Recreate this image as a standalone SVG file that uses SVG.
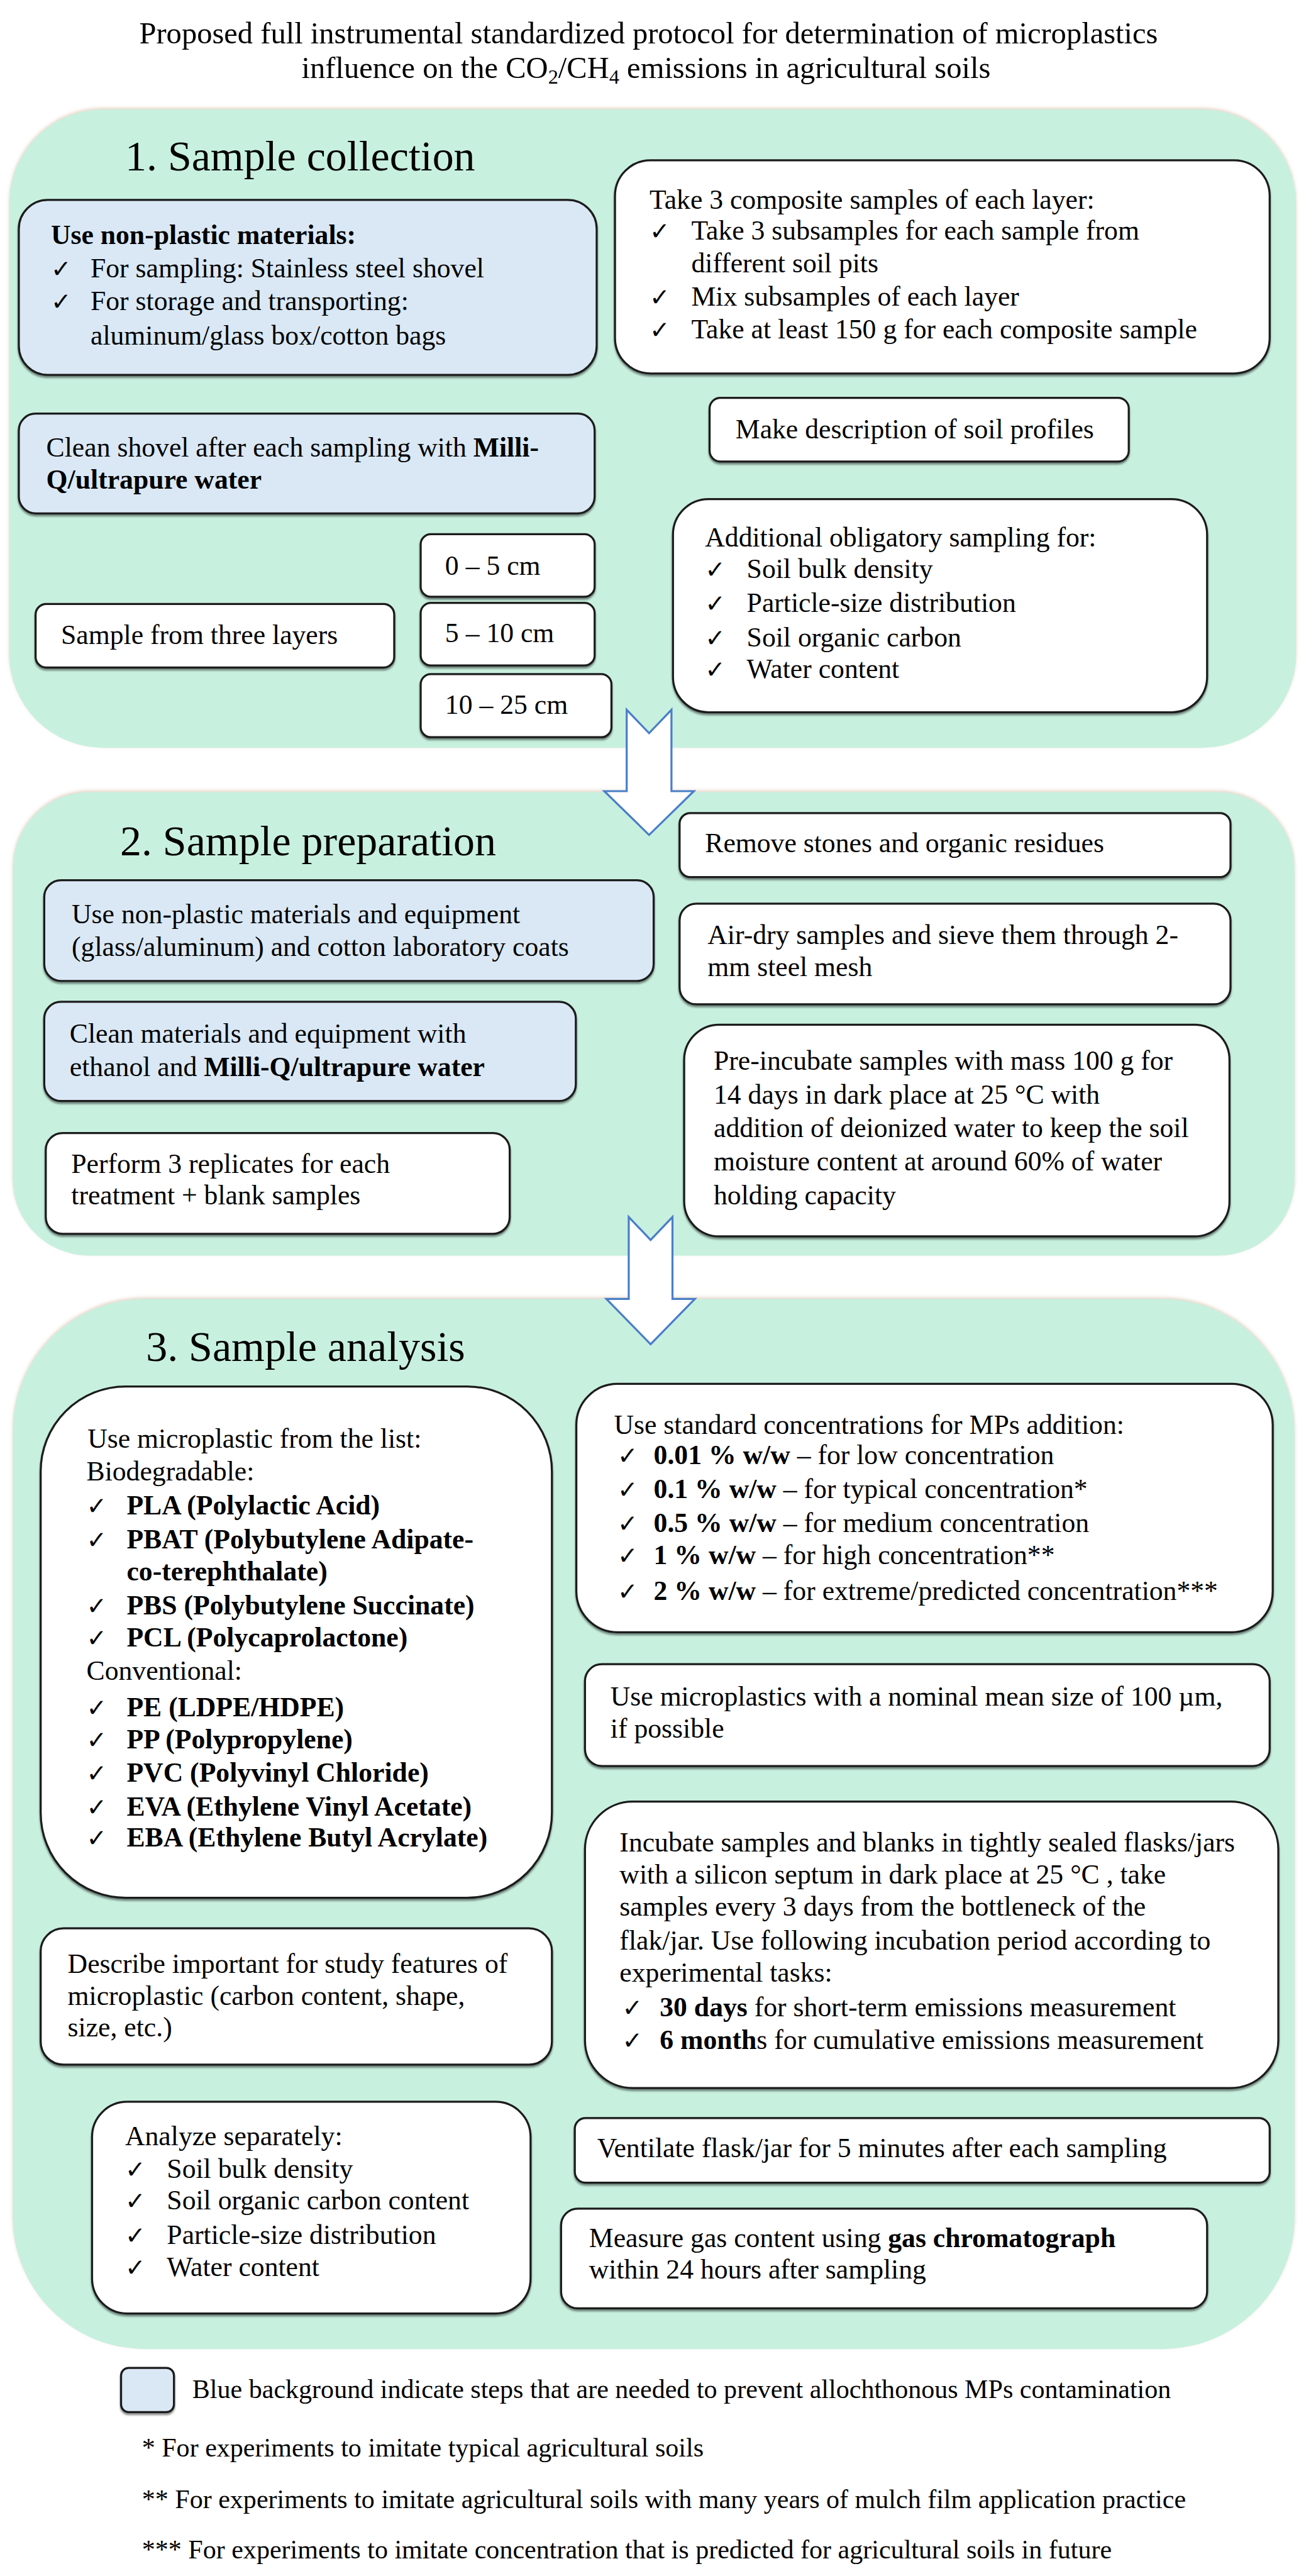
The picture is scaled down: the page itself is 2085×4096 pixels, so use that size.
<svg xmlns="http://www.w3.org/2000/svg" width="2085" height="4096" viewBox="0 0 2085 4096">
<defs>
<style>
text{font-family:"Liberation Serif","Times New Roman",serif;font-size:54px;fill:#000}
.b{font-weight:bold}
.ck{font-family:"DejaVu Sans",sans-serif;font-size:48px}
.h{font-size:84px}
.t{font-size:60px}
.fn{font-size:52px}
.panel{fill:#C8F0DF;filter:url(#psh)}
.box{fill:#fff;stroke:#1a1a1a;stroke-width:4;filter:url(#sh)}
.blue{fill:#DAE8F5;stroke:#1a1a1a;stroke-width:4;filter:url(#sh)}
.arrow{fill:#fff;stroke:#4A7EC8;stroke-width:4;stroke-linejoin:miter}
</style>
<filter id="sh" x="-5%" y="-10%" width="110%" height="125%"><feDropShadow dx="0" dy="4" stdDeviation="2" flood-color="#000" flood-opacity="0.45"/></filter>
<filter id="psh" x="-5%" y="-5%" width="110%" height="110%"><feDropShadow dx="0" dy="-3" stdDeviation="3" flood-color="#C9A98A" flood-opacity="0.5"/></filter>
</defs>
<rect width="2085" height="4096" fill="#fff"/>
<g transform="scale(0.809)">
<g id="title">
<text class="t" x="1275" y="85" text-anchor="middle">Proposed full instrumental standardized protocol for determination of microplastics</text>
<text class="t" x="1270" y="153" text-anchor="middle">influence on the CO<tspan font-size="40" dy="12">2</tspan><tspan dy="-12">/CH</tspan><tspan font-size="40" dy="12">4</tspan><tspan dy="-12"> emissions in agricultural soils</tspan></text>
</g>

<g id="section1">
<rect class="panel" x="18" y="215" width="2530" height="1255" rx="185" ry="185"/>
<text class="h" x="246" y="335">1. Sample collection</text>
</g>
<g id="section2">
<rect class="panel" x="25" y="1557" width="2520" height="911" rx="150" ry="150"/>
<text class="h" x="236" y="1681">2. Sample preparation</text>
</g>
<g id="section3">
<rect class="panel" x="25" y="2553" width="2520" height="2064" rx="260" ry="260"/>
<text class="h" x="287" y="2675">3. Sample analysis</text>
</g>

<g id="connectors">
<path class="arrow" d="M1232,1395 L1276,1441 L1320,1395 L1320,1555 L1364,1555 L1276,1641 L1188,1555 L1232,1555 Z"/>
<path class="arrow" d="M1236,2392 L1279,2437 L1322,2392 L1322,2553 L1366,2553 L1279,2642 L1192,2553 L1236,2553 Z"/>
</g>

<g id="n-nonplastic">
<rect class="blue" x="37" y="393" width="1136" height="344" rx="57"/>
<text class="b" x="100" y="480">Use non-plastic materials:</text>
<text class="ck" x="100" y="545">✓</text><text x="178" y="545">For sampling: Stainless steel shovel</text>
<text class="ck" x="100" y="610">✓</text><text x="178" y="610">For storage and transporting:</text>
<text x="178" y="677">aluminum/glass  box/cotton bags</text>
</g>
<g id="n-cleanshovel">
<rect class="blue" x="37" y="813" width="1132" height="196" rx="33"/>
<text x="91" y="898">Clean shovel after each sampling with <tspan class="b">Milli-</tspan></text>
<text class="b" x="91" y="960">Q/ultrapure water</text>
</g>
<g id="n-composite">
<rect class="box" x="1209" y="315" width="1287" height="419" rx="70"/>
<text x="1277" y="410">Take 3 composite samples of each layer:</text>
<text class="ck" x="1277" y="471">✓</text><text x="1359" y="471">Take 3 subsamples for each sample from</text>
<text x="1359" y="535">different soil pits</text>
<text class="ck" x="1277" y="601">✓</text><text x="1359" y="601">Mix subsamples of each layer</text>
<text class="ck" x="1277" y="665">✓</text><text x="1359" y="665">Take at least 150 g for each composite sample</text>
</g>
<g id="n-description">
<rect class="box" x="1395" y="782" width="824" height="125" rx="21"/>
<text x="1446" y="861">Make description of soil profiles</text>
</g>
<g id="n-additional">
<rect class="box" x="1323" y="981" width="1050" height="419" rx="70"/>
<text x="1386" y="1074">Additional obligatory sampling for:</text>
<text class="ck" x="1386" y="1136">✓</text><text x="1468" y="1136">Soil bulk density</text>
<text class="ck" x="1386" y="1203">✓</text><text x="1468" y="1203">Particle-size distribution</text>
<text class="ck" x="1386" y="1271">✓</text><text x="1468" y="1271">Soil organic carbon</text>
<text class="ck" x="1386" y="1333">✓</text><text x="1468" y="1333">Water content</text>
</g>
<g id="n-layers">
<rect class="box" x="70" y="1187" width="705" height="125" rx="21"/>
<text x="120" y="1266">Sample from three layers</text>
</g>
<g id="n-0-5">
<rect class="box" x="827" y="1050" width="342" height="123" rx="20"/>
<text x="875" y="1130">0 – 5 cm</text>
</g>
<g id="n-5-10">
<rect class="box" x="827" y="1185" width="342" height="123" rx="20"/>
<text x="875" y="1262">5 – 10 cm</text>
</g>
<g id="n-10-25">
<rect class="box" x="827" y="1325" width="375" height="124" rx="20"/>
<text x="875" y="1403">10 – 25 cm</text>
</g>

<g id="n-equipment">
<rect class="blue" x="87" y="1730" width="1198" height="198" rx="33"/>
<text x="141" y="1814">Use non-plastic materials and equipment</text>
<text x="141" y="1879">(glass/aluminum)  and cotton laboratory coats</text>
</g>
<g id="n-cleanmaterials">
<rect class="blue" x="87" y="1969" width="1045" height="195" rx="33"/>
<text x="137" y="2050">Clean materials and equipment with</text>
<text x="137" y="2115">ethanol and <tspan class="b">Milli-Q/ultrapure water</tspan></text>
</g>
<g id="n-replicates">
<rect class="box" x="90" y="2227" width="912" height="198" rx="33"/>
<text x="140" y="2305">Perform 3 replicates for each</text>
<text x="140" y="2367">treatment + blank samples</text>
</g>
<g id="n-stones">
<rect class="box" x="1336" y="1598" width="1083" height="126" rx="21"/>
<text x="1386" y="1675">Remove stones and organic residues</text>
</g>
<g id="n-airdry">
<rect class="box" x="1336" y="1776" width="1083" height="198" rx="33"/>
<text x="1391" y="1856">Air-dry samples and sieve them through 2-</text>
<text x="1391" y="1919">mm steel mesh</text>
</g>
<g id="n-preincubate">
<rect class="box" x="1345" y="2014" width="1072" height="416" rx="69"/>
<text x="1403" y="2103">Pre-incubate samples with mass 100 g for</text>
<text x="1403" y="2169">14 days in dark place at 25 °C with</text>
<text x="1403" y="2235">addition of deionized water to keep the soil</text>
<text x="1403" y="2301">moisture content at around 60% of water</text>
<text x="1403" y="2367">holding capacity</text>
</g>

<g id="n-mplist">
<rect class="box" x="80" y="2725" width="1005" height="1005" rx="167"/>
<text x="172" y="2845">Use microplastic from the list:</text>
<text x="170" y="2910">Biodegradable:</text>
<text class="ck" x="170" y="2976">✓</text><text class="b" x="249" y="2976">PLA (Polylactic Acid)</text>
<text class="ck" x="170" y="3043">✓</text><text class="b" x="249" y="3043">PBAT (Polybutylene Adipate-</text>
<text class="b" x="249" y="3106">co-terephthalate)</text>
<text class="ck" x="170" y="3173">✓</text><text class="b" x="249" y="3173">PBS (Polybutylene Succinate)</text>
<text class="ck" x="170" y="3236">✓</text><text class="b" x="249" y="3236">PCL (Polycaprolactone)</text>
<text x="170" y="3302">Conventional:</text>
<text class="ck" x="170" y="3373">✓</text><text class="b" x="249" y="3373">PE (LDPE/HDPE)</text>
<text class="ck" x="170" y="3436">✓</text><text class="b" x="249" y="3436">PP (Polypropylene)</text>
<text class="ck" x="170" y="3502">✓</text><text class="b" x="249" y="3502">PVC (Polyvinyl Chloride)</text>
<text class="ck" x="170" y="3569">✓</text><text class="b" x="249" y="3569">EVA (Ethylene Vinyl Acetate)</text>
<text class="ck" x="170" y="3629">✓</text><text class="b" x="249" y="3629">EBA (Ethylene Butyl Acrylate)</text>
</g>
<g id="n-describe">
<rect class="box" x="80" y="3790" width="1005" height="268" rx="45"/>
<text x="133" y="3878">Describe important for study features of</text>
<text x="133" y="3941">microplastic (carbon content, shape,</text>
<text x="133" y="4002">size, etc.)</text>
</g>
<g id="n-analyze">
<rect class="box" x="181" y="4131" width="862" height="416" rx="69"/>
<text x="246" y="4216">Analyze separately:</text>
<text class="ck" x="246" y="4280">✓</text><text x="328" y="4280">Soil bulk density</text>
<text class="ck" x="246" y="4343">✓</text><text x="328" y="4343">Soil organic carbon content</text>
<text class="ck" x="246" y="4410">✓</text><text x="328" y="4410">Particle-size distribution</text>
<text class="ck" x="246" y="4473">✓</text><text x="328" y="4473">Water content</text>
</g>
<g id="n-concentrations">
<rect class="box" x="1133" y="2720" width="1369" height="488" rx="81"/>
<text x="1207" y="2818">Use standard concentrations for MPs addition:</text>
<text class="ck" x="1214" y="2878">✓</text><text x="1285" y="2878"><tspan class="b">0.01 % w/w</tspan> – for low concentration</text>
<text class="ck" x="1214" y="2945">✓</text><text x="1285" y="2945"><tspan class="b">0.1 % w/w</tspan> – for typical concentration*</text>
<text class="ck" x="1214" y="3011">✓</text><text x="1285" y="3011"><tspan class="b">0.5 % w/w</tspan> – for medium concentration</text>
<text class="ck" x="1214" y="3074">✓</text><text x="1285" y="3074"><tspan class="b">1 % w/w</tspan> – for high concentration**</text>
<text class="ck" x="1214" y="3145">✓</text><text x="1285" y="3145"><tspan class="b">2 % w/w</tspan> – for extreme/predicted concentration***</text>
</g>
<g id="n-size">
<rect class="box" x="1150" y="3271" width="1346" height="200" rx="33"/>
<text x="1200" y="3352">Use microplastics with a nominal mean size of 100 µm,</text>
<text x="1200" y="3415">if possible</text>
</g>
<g id="n-incubate">
<rect class="box" x="1150" y="3541" width="1363" height="563" rx="94"/>
<text x="1218" y="3639">Incubate samples and blanks in tightly sealed flasks/jars</text>
<text x="1218" y="3702">with a silicon septum in dark place at 25 °C , take</text>
<text x="1218" y="3765">samples every 3 days from the bottleneck of the</text>
<text x="1218" y="3832">flak/jar.  Use following incubation period according to</text>
<text x="1218" y="3895">experimental tasks:</text>
<text class="ck" x="1223" y="3963">✓</text><text x="1297" y="3963"><tspan class="b">30 days</tspan> for short-term emissions measurement</text>
<text class="ck" x="1223" y="4027">✓</text><text x="1297" y="4027"><tspan class="b">6 month</tspan>s for cumulative emissions measurement</text>
</g>
<g id="n-ventilate">
<rect class="box" x="1130" y="4163" width="1366" height="127" rx="21"/>
<text x="1174" y="4240">Ventilate flask/jar for 5 minutes after each sampling</text>
</g>
<g id="n-measure">
<rect class="box" x="1103" y="4341" width="1270" height="196" rx="33"/>
<text x="1158" y="4416">Measure gas content using <tspan class="b">gas chromatograph</tspan></text>
<text x="1158" y="4479">within 24 hours after sampling</text>
</g>

<g id="legend">
<rect class="blue" x="238" y="4654" width="104" height="87" rx="15"/>
<text class="fn" x="378" y="4713">Blue background indicate steps that are needed to prevent allochthonous MPs contamination</text>
<text class="fn" x="279" y="4828">* For experiments to imitate typical agricultural soils</text>
<text class="fn" x="279" y="4929">** For experiments to imitate agricultural soils with many years of mulch film application practice</text>
<text class="fn" x="279" y="5028">*** For experiments to imitate concentration that is predicted for agricultural soils in future</text>
</g>
</g>
</svg>
